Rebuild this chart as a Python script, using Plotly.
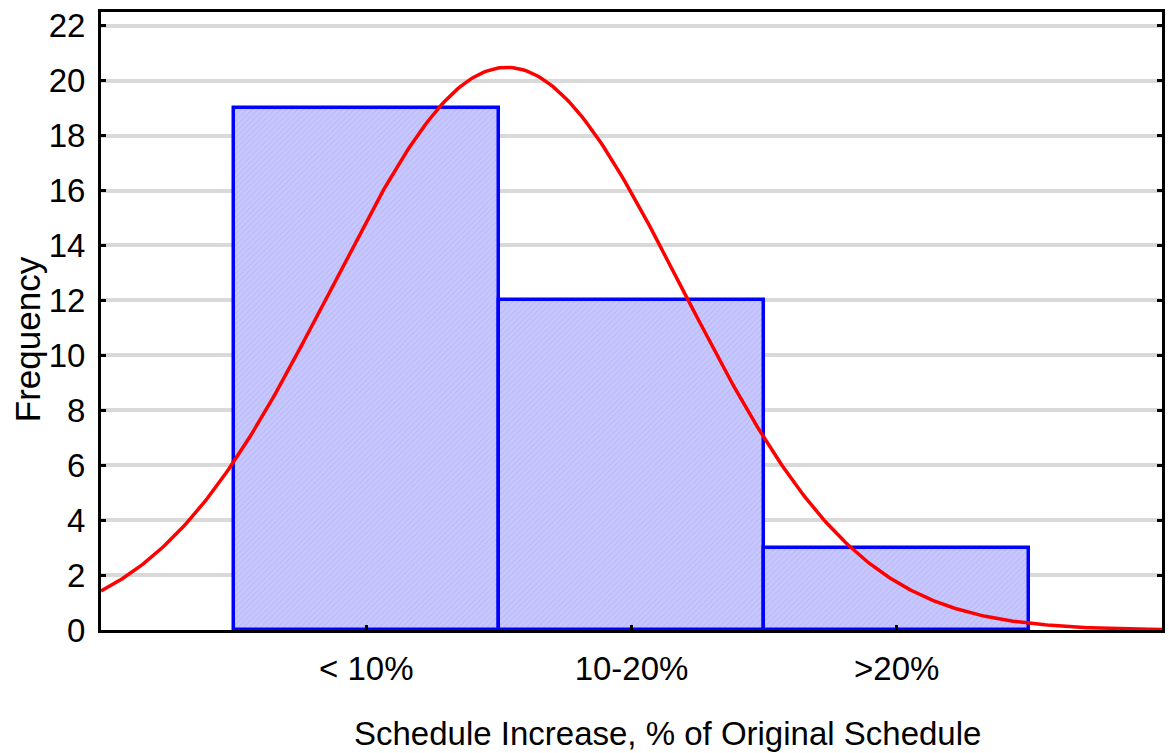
import numpy as np
import plotly.graph_objects as go

categories = ["< 10%", "10-20%", ">20%"]
counts = [19, 12, 3]
y_ticks = [0, 2, 4, 6, 8, 10, 12, 14, 16, 18, 20, 22]

# Normal curve fitted to the binned data (bins coded 0,1,2; bin width 1)
pos = np.arange(len(categories))
c = np.array(counts, dtype=float)
n = c.sum()
mean = (pos * c).sum() / n
sd = np.sqrt(((pos - mean) ** 2 * c).sum() / (n - 1))
xc = np.linspace(-1, 3, 400)
yc = n / (sd * np.sqrt(2 * np.pi)) * np.exp(-0.5 * ((xc - mean) / sd) ** 2)

FONT = "Liberation Sans, Arial, sans-serif"
FS = 33

L, R, T, B = 101, 1165, 12, 630

fig = go.Figure()
fig.add_trace(go.Bar(
    x=pos, y=counts, width=1,
    marker=dict(color="rgb(196,196,252)",
                line=dict(color="#0000ff", width=3.5),
                pattern=dict(shape="/", fgcolor="rgb(172,172,242)", bgcolor="rgb(200,200,254)", size=4, solidity=0.3)),
    showlegend=False,
))
fig.add_trace(go.Scatter(
    x=xc, y=yc, mode="lines",
    line=dict(color="#ff0000", width=3.5),
    showlegend=False,
))

fig.update_layout(
    width=1169, height=753,
    margin=dict(l=L, r=1169 - R, t=T, b=753 - B),
    paper_bgcolor="white", plot_bgcolor="white",
    font=dict(family=FONT, size=FS, color="black"),
    bargap=0,
    xaxis=dict(
        range=[-1, 3], tickvals=list(pos), ticktext=categories,
        showgrid=False, zeroline=False,
        showline=True, linecolor="black", linewidth=3, mirror=True,
        ticks="inside", ticklen=5, tickwidth=3, tickcolor="black",
        tickfont=dict(family=FONT, size=FS), ticklabelstandoff=7,
    ),
    yaxis=dict(
        range=[0, 22.5], tickvals=y_ticks,
        showgrid=True, gridcolor="#d9d9d9", gridwidth=4, zeroline=False,
        showline=True, linecolor="black", linewidth=3, mirror="allticks",
        ticks="inside", ticklen=5, tickwidth=3, tickcolor="black",
        tickfont=dict(family=FONT, size=FS), ticklabelstandoff=6,
    ),
    annotations=[
        dict(text="Schedule Increase, % of Original Schedule", xref="paper", yref="paper",
             x=(669 - L) / (R - L), y=-(733 - B) / (B - T), xanchor="center", yanchor="middle",
             showarrow=False, font=dict(family=FONT, size=FS)),
        dict(text="Frequency", xref="paper", yref="paper", textangle=-90,
             x=-(L - 27) / (R - L), y=(B - 339) / (B - T), xanchor="center", yanchor="middle",
             showarrow=False, font=dict(family=FONT, size=35)),
    ],
)

fig.write_html("out.html")
